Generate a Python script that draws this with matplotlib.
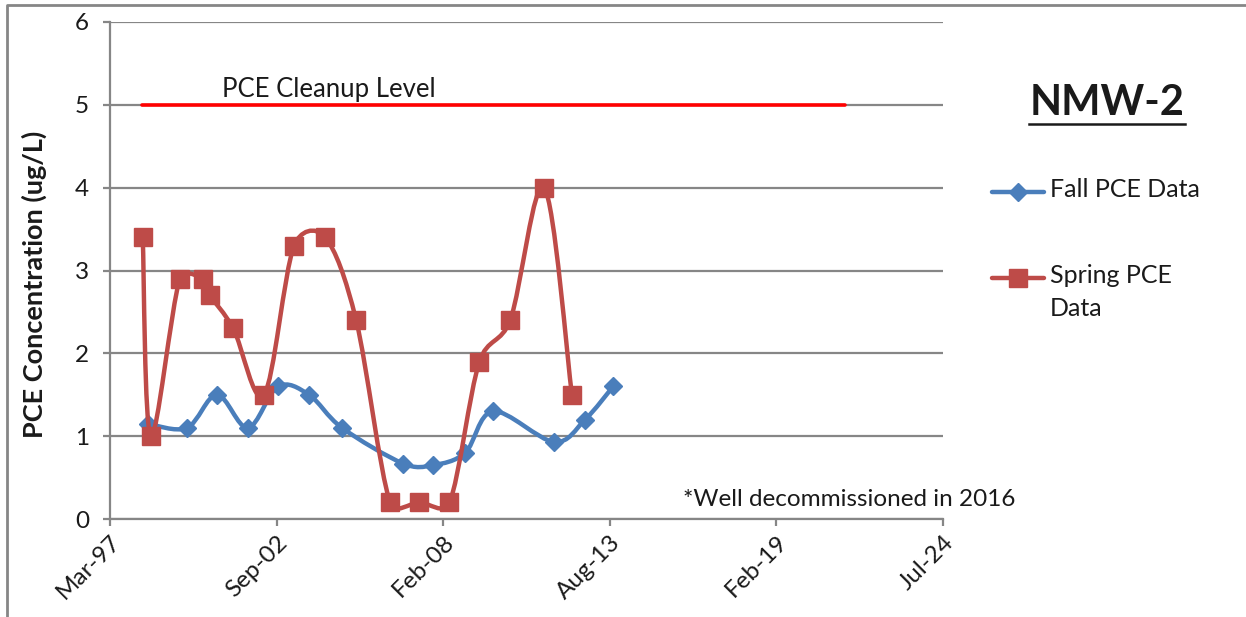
import numpy as np
import matplotlib
matplotlib.use("Agg")
import matplotlib.pyplot as plt
import matplotlib.dates as mdates
from matplotlib.path import Path
from matplotlib.patches import PathPatch
from matplotlib.lines import Line2D
from datetime import datetime

plt.rcParams['font.family'] = ['Lato', 'DejaVu Sans']

# --- data ---
fall_dates = ["1998-06-10", "1999-09-21", "2000-09-15", "2001-09-23", "2002-09-18",
              "2003-09-25", "2004-10-26", "2006-10-29", "2007-10-24", "2008-11-12",
              "2009-10-14", "2011-10-15", "2012-10-21", "2013-09-23"]
fall_pce = [1.15, 1.1, 1.5, 1.1, 1.6, 1.5, 1.1, 0.67, 0.65, 0.8, 1.3, 0.93, 1.2, 1.6]

spring_dates = ["1998-04-08", "1998-07-13", "1999-06-28", "2000-03-28", "2000-06-23",
                "2001-03-30", "2002-04-03", "2003-03-30", "2004-04-06", "2005-04-13",
                "2006-05-26", "2007-05-13", "2008-05-07", "2009-05-02", "2010-05-06",
                "2011-06-18", "2012-05-16"]
spring_pce = [3.4, 1.0, 2.9, 2.9, 2.7, 2.3, 1.5, 3.3, 3.4, 2.4, 0.2, 0.2, 0.2, 1.9, 2.4, 4.0, 1.5]

cleanup_dates = ["1998-03-30", "2021-05-05"]
cleanup_level = [5, 5]

x_ticks = ["1997-03-11", "2002-09-01", "2008-02-21", "2013-08-14", "2019-02-04", "2024-07-27"]
y_ticks = [0, 1, 2, 3, 4, 5, 6]

BLUE = '#4A7EBB'
RED = '#BE4B48'
GRID = '#868686'
TXT = '#1a1a1a'


def to_num(ds):
    return mdates.date2num([datetime.strptime(d, "%Y-%m-%d") for d in ds])


def smooth_path(ax, x, y):
    # Excel style smoothed line, worked out in pixel space:
    # catmull-rom handles (1/6) clipped to half the segment length
    pts = ax.transData.transform(np.column_stack([x, y]))
    n = len(pts)
    verts = [pts[0]]
    codes = [Path.MOVETO]
    for i in range(n - 1):
        p0 = pts[i - 1] if i > 0 else pts[i]
        p1, p2 = pts[i], pts[i + 1]
        p3 = pts[i + 2] if i + 2 < n else pts[i + 1]
        d12 = np.hypot(*(p2 - p1))
        d02 = np.hypot(*(p2 - p0))
        d13 = np.hypot(*(p3 - p1))
        f1 = 1 / 6 if d02 / 6 < d12 / 2 or d02 == 0 else d12 / (2 * d02)
        f2 = 1 / 6 if d13 / 6 < d12 / 2 or d13 == 0 else d12 / (2 * d13)
        verts += [p1 + f1 * (p2 - p0), p2 - f2 * (p3 - p1), p2]
        codes += [Path.CURVE4] * 3
    verts = ax.transData.inverted().transform(np.array(verts))
    return Path(verts, codes)


W, H = 1246, 617
fig = plt.figure(figsize=(W / 100, H / 100), dpi=100)
ax = fig.add_axes([110 / W, 1 - 519 / H, (943 - 110) / W, (519 - 22) / H])

xt = to_num(x_ticks)
ax.set_xlim(xt[0], xt[-1])
ax.set_ylim(0, 6)

fx, sx = to_num(fall_dates), to_num(spring_dates)

ax.add_patch(PathPatch(smooth_path(ax, fx, fall_pce), fill=False, edgecolor=BLUE, lw=3.2, zorder=3,
                       capstyle='round', joinstyle='round'))
ax.plot(fx, fall_pce, ls='none', marker='D', ms=9.5, color=BLUE, zorder=4)
ax.add_patch(PathPatch(smooth_path(ax, sx, spring_pce), fill=False, edgecolor=RED, lw=3.2, zorder=5,
                       capstyle='round', joinstyle='round'))
ax.plot(sx, spring_pce, ls='none', marker='s', ms=13.5, color=RED, zorder=6)

ax.plot(to_num(cleanup_dates), cleanup_level, color='#FF0000', lw=2.6, solid_capstyle='round', zorder=7)
ax.text(to_num(["2000-11-14"])[0], 5.04, "PCE Cleanup Level", fontsize=18.5, color=TXT,
        ha='left', va='bottom')

ax.set_xticks(xt)
ax.xaxis.set_major_formatter(mdates.DateFormatter("%b-%y"))
ax.set_yticks(y_ticks)
ax.yaxis.grid(True, color=GRID, lw=1.6)
ax.set_axisbelow(True)
for s in ['top', 'right']:
    ax.spines[s].set_visible(False)
for s in ['left', 'bottom']:
    ax.spines[s].set_color(GRID)
    ax.spines[s].set_linewidth(1.6)
ax.tick_params(axis='both', color=GRID, width=1.6, length=5, labelsize=17.5, labelcolor=TXT)
ax.tick_params(axis='y', pad=10)
ax.tick_params(axis='x', pad=4)
plt.setp(ax.get_xticklabels(), rotation=45, ha='right', rotation_mode='anchor')

ax.set_ylabel("PCE Concentration (ug/L)", fontsize=19.5, fontweight='bold', color=TXT)
ax.yaxis.set_label_coords(-63 / 833, 0.473)

fig.text(1107 / W, 1 - 103 / H, "NMW-2", fontsize=30, fontweight='bold', ha='center', va='center',
         color=TXT)
fig.add_artist(Line2D([1029 / W, 1185 / W], [1 - 124 / H, 1 - 124 / H], color=TXT, lw=1.8))

# legend drawn by hand so the handle lines up with the first text line
for ypx, col, mk, ms, lab in [(192, BLUE, 'D', 9.5, "Fall PCE Data"),
                               (278, RED, 's', 13.5, "Spring PCE\nData")]:
    yy = 1 - ypx / H
    fig.add_artist(Line2D([992 / W, 1018 / W, 1044 / W], [yy, yy, yy], color=col, lw=3.2,
                          marker=mk, ms=ms, markevery=[1], solid_capstyle='round'))
    fig.text(1050 / W, yy + 14 / H, lab, fontsize=18, color=TXT, ha='left', va='top',
             linespacing=1.55)

fig.text(683 / W, 1 - 500 / H, "*Well decommissioned in 2016", fontsize=17.5, color=TXT,
         ha='left', va='center')

# outer chart border (only top and left show in the picture)
fig.add_artist(Line2D([7 / W, 7 / W, 1], [0, 1 - 5 / H, 1 - 5 / H], color=GRID, lw=2))

fig.savefig("out.png", dpi=100)
